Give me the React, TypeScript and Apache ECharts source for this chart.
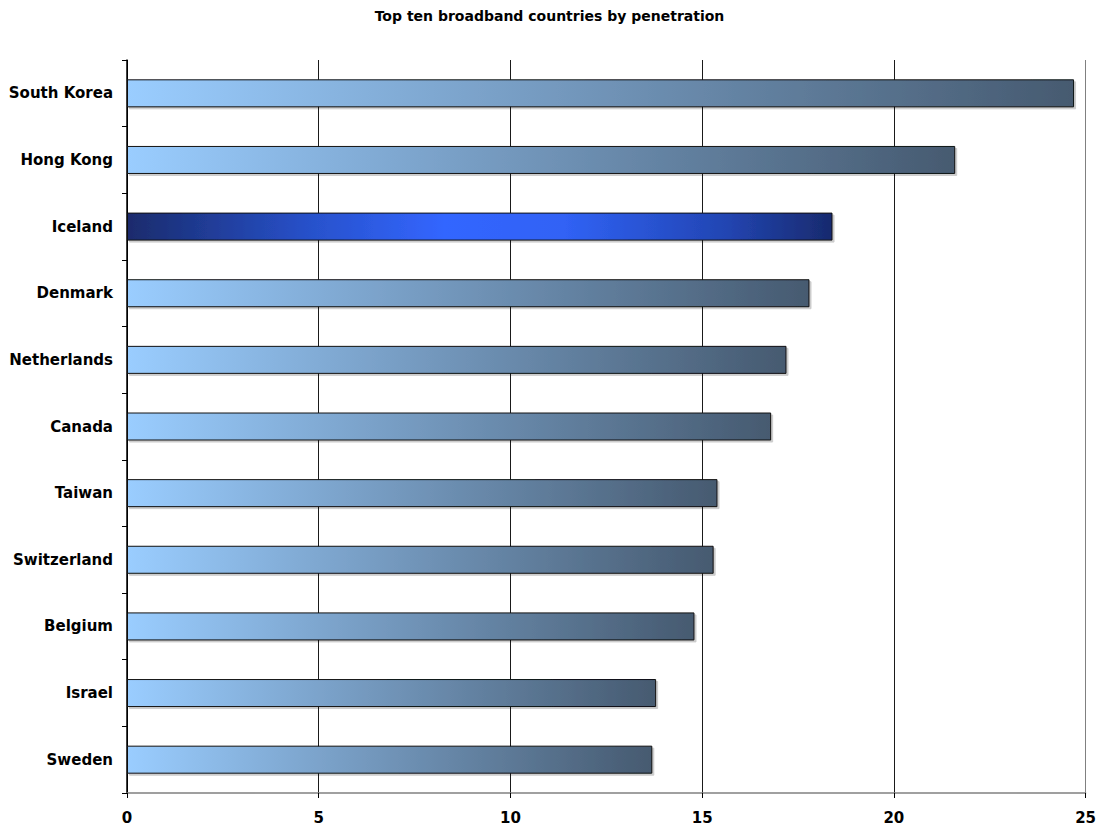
import React, { useEffect, useRef } from "react";
import * as echarts from "echarts";

// Broadband subscribers per 100 inhabitants, highest first
const countries = [
  "South Korea",
  "Hong Kong",
  "Iceland",
  "Denmark",
  "Netherlands",
  "Canada",
  "Taiwan",
  "Switzerland",
  "Belgium",
  "Israel",
  "Sweden",
];
const penetration = [24.7, 21.6, 18.4, 17.8, 17.2, 16.8, 15.4, 15.3, 14.8, 13.8, 13.7];
const highlighted = "Iceland";
const xTicks = { min: 0, max: 25, interval: 5 };

const FONT = "'DejaVu Sans', Verdana, sans-serif";

const normalFill = new echarts.graphic.LinearGradient(0, 0, 1, 0, [
  { offset: 0, color: "#9ACDFF" },
  { offset: 1, color: "#465A70" },
]);
const highlightFill = new echarts.graphic.LinearGradient(0, 0, 1, 0, [
  { offset: 0, color: "#1A2B6C" },
  { offset: 0.25, color: "#2750C8" },
  { offset: 0.45, color: "#3366FF" },
  { offset: 0.62, color: "#3062F5" },
  { offset: 0.85, color: "#2245B2" },
  { offset: 1, color: "#182A6E" },
]);

export default function App() {
  const ref = useRef<HTMLDivElement>(null);

  useEffect(() => {
    if (!ref.current) return;
    const chart = echarts.init(ref.current, null, { renderer: "svg" });
    chart.setOption({
      animation: false,
      backgroundColor: "#ffffff",
      title: {
        text: "Top ten broadband countries by penetration",
        left: "center",
        top: 4,
        textStyle: { fontFamily: FONT, fontSize: 14, fontWeight: "bold", color: "#000" },
      },
      grid: { left: 127, right: 12, top: 60, bottom: 33, containLabel: false },
      xAxis: {
        type: "value",
        min: xTicks.min,
        max: xTicks.max,
        interval: xTicks.interval,
        axisLine: { show: true, lineStyle: { color: "#808080", width: 1.5 } },
        axisTick: { show: true, length: 5, lineStyle: { color: "#000" } },
        axisLabel: {
          margin: 17,
          fontFamily: FONT,
          fontSize: 15,
          fontWeight: "bold",
          color: "#000",
        },
        splitLine: {
          show: true,
          lineStyle: { color: ["#000", "#1a1a1a", "#1a1a1a", "#1a1a1a", "#1a1a1a", "#808080"], width: 1 },
        },
      },
      yAxis: {
        type: "category",
        data: countries,
        inverse: true,
        axisLine: { show: true, lineStyle: { color: "#000", width: 1.5 } },
        axisTick: { show: true, length: 5, lineStyle: { color: "#000" } },
        axisLabel: {
          margin: 14,
          fontFamily: FONT,
          fontSize: 15,
          fontWeight: "bold",
          color: "#000",
        },
        splitLine: { show: false },
      },
      series: [
        {
          type: "bar",
          barWidth: 28,
          data: penetration.map((v, i) => ({
            value: v,
            itemStyle: {
              color: countries[i] === highlighted ? highlightFill : normalFill,
            },
          })),
          itemStyle: {
            borderColor: "#111",
            borderWidth: 1,
            shadowColor: "rgba(0,0,0,0.2)",
            shadowOffsetX: 2,
            shadowOffsetY: 2,
            shadowBlur: 0,
          },
        },
      ],
    });
    return () => chart.dispose();
  }, []);

  return (
    <div
      ref={ref}
      style={{ position: "fixed", left: 0, top: 0, width: 1099, height: 826 }}
    />
  );
}
